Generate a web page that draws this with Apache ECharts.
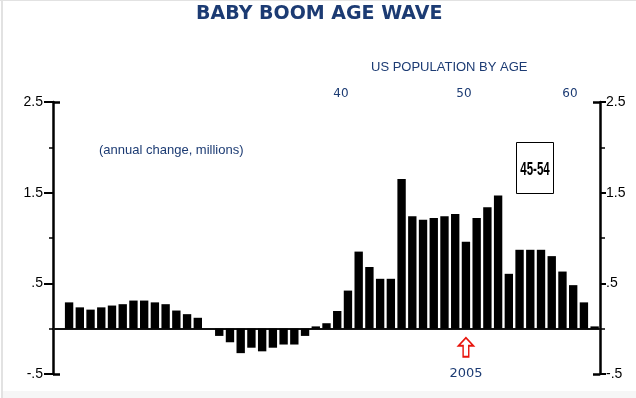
<!DOCTYPE html>
<html>
<head>
<meta charset="utf-8">
<style>
  html, body { margin: 0; padding: 0; background: #fff; }
  #main { width: 636px; height: 398px; }
</style>
<script src="https://cdn.jsdelivr.net/npm/echarts@6/dist/echarts.min.js"></script>
</head>
<body>
<div id="main"></div>
<script>
// 年份（第一格留空，与左轴之间的间隔）
var years = [];
for (var y = 1967; y <= 2017; y++) years.push(String(y));

// 年度变化（百万）
var values = [null,
  0.29, 0.235, 0.21, 0.235, 0.255, 0.27, 0.31, 0.31, 0.29, 0.27,
  0.20, 0.16, 0.12, 0, -0.08, -0.15, -0.27, -0.21, -0.25, -0.21,
  -0.175, -0.175, -0.08, 0.025, 0.06, 0.195, 0.42, 0.85, 0.68, 0.55,
  0.55, 1.65, 1.24, 1.20, 1.22, 1.24, 1.265, 0.96, 1.22, 1.34,
  1.47, 0.605, 0.87, 0.87, 0.87, 0.80, 0.63, 0.48, 0.29, 0.025
];

var ageLabels = ['40', '50', '60'];
var markYear = '2005';
var boxText = '45-54';

var navy = '#1c3b73';

var chartDom = document.getElementById('main');
var myChart = echarts.init(chartDom);

function tickLabel(v) {
  return String(v).replace('0.', '.');
}

// 左右轴的公共部分
function valueAxis(pos, tickLen, minorLen, margin) {
  return {
    type: 'value',
    position: pos,
    min: -0.5,
    max: 2.5,
    interval: 1,
    splitLine: { show: false },
    axisLine: { show: true, lineStyle: { color: '#000', width: 2.5 } },
    axisTick: { show: true, length: tickLen, lineStyle: { color: '#000', width: 2 } },
    minorTick: { show: true, splitNumber: 2, length: minorLen, lineStyle: { color: '#000', width: 1.5 } },
    axisLabel: {
      margin: margin,
      formatter: tickLabel,
      color: '#000',
      fontFamily: 'Liberation Sans',
      fontSize: 14
    }
  };
}

// 两端的内侧短横
function capAxis(pos) {
  return {
    type: 'value',
    position: pos,
    min: -0.5,
    max: 2.5,
    interval: 3,
    splitLine: { show: false },
    axisLine: { show: false },
    axisLabel: { show: false },
    axisTick: { show: true, inside: true, length: 7, lineStyle: { color: '#000', width: 2.5 } }
  };
}

var option = {
  backgroundColor: '#fff',
  animation: false,
  title: [
    {
      text: 'BABY BOOM AGE WAVE',
      left: 196,
      top: 5,
      padding: 0,
      textStyle: { color: navy, fontFamily: 'DejaVu Sans', fontWeight: 'bold', fontSize: 19 }
    },
    {
      text: 'US POPULATION BY AGE',
      left: 371,
      top: 61,
      padding: 0,
      textStyle: { color: navy, fontFamily: 'Liberation Sans', fontWeight: 'normal', fontSize: 13 }
    },
    {
      text: '(annual change, millions)',
      left: 99,
      top: 144,
      padding: 0,
      textStyle: { color: navy, fontFamily: 'Liberation Sans', fontWeight: 'normal', fontSize: 13 }
    }
  ],
  graphic: [
    // 图片边框
    { type: 'rect', shape: { x: 0, y: 0, width: 636, height: 1 }, style: { fill: '#e2e2e2' }, silent: true },
    { type: 'rect', shape: { x: 1, y: 0, width: 2, height: 398 }, style: { fill: '#e2e2e2' }, silent: true },
    { type: 'rect', shape: { x: 3, y: 391, width: 633, height: 7 }, style: { fill: '#f6f6f6' }, silent: true },
    // 年龄刻度
    { type: 'text', x: 341, y: 94, style: { text: ageLabels[0], fill: navy, font: '12px "DejaVu Sans"', align: 'center', verticalAlign: 'middle' } },
    { type: 'text', x: 464, y: 94, style: { text: ageLabels[1], fill: navy, font: '12px "DejaVu Sans"', align: 'center', verticalAlign: 'middle' } },
    { type: 'text', x: 570, y: 94, style: { text: ageLabels[2], fill: navy, font: '12px "DejaVu Sans"', align: 'center', verticalAlign: 'middle' } },
    // 45-54 方框
    { type: 'rect', shape: { x: 516.5, y: 142.5, width: 37, height: 51 }, style: { fill: 'none', stroke: '#000', lineWidth: 1 }, silent: true },
    { type: 'text', x: 535, y: 170, scaleX: 0.64, style: { text: boxText, fill: '#000', font: 'bold 18px "Liberation Sans"', align: 'center', verticalAlign: 'middle' } }
  ],
  grid: {
    left: 53,
    right: 36,
    top: 102,
    bottom: 24,
    containLabel: false
  },
  xAxis: {
    type: 'category',
    data: years,
    axisLine: { onZero: true, onZeroAxisIndex: 0, lineStyle: { color: '#111', width: 2 } },
    axisTick: { show: false },
    axisLabel: { show: false },
    splitLine: { show: false }
  },
  yAxis: [
    valueAxis('left', 9, 4, 10),
    valueAxis('right', 6, 5, 6),
    capAxis('left'),
    capAxis('right')
  ],
  series: [
    {
      type: 'bar',
      data: values,
      barCategoryGap: '22%',
      itemStyle: { color: '#000' },
      markPoint: {
        silent: true,
        data: [
          {
            coord: [markYear, -0.205],
            symbol: 'path://M8,0 L16,8 L11,8 L11,19 L5,19 L5,8 L0,8 Z',
            symbolSize: [15, 19],
            itemStyle: { color: '#fff', borderColor: '#e8140c', borderWidth: 1.6 },
            label: {
              show: true,
              position: 'bottom',
              distance: 9,
              formatter: markYear,
              color: navy,
              fontFamily: 'DejaVu Sans',
              fontSize: 13
            }
          }
        ]
      }
    }
  ]
};

option && myChart.setOption(option);
</script>
</body>
</html>
